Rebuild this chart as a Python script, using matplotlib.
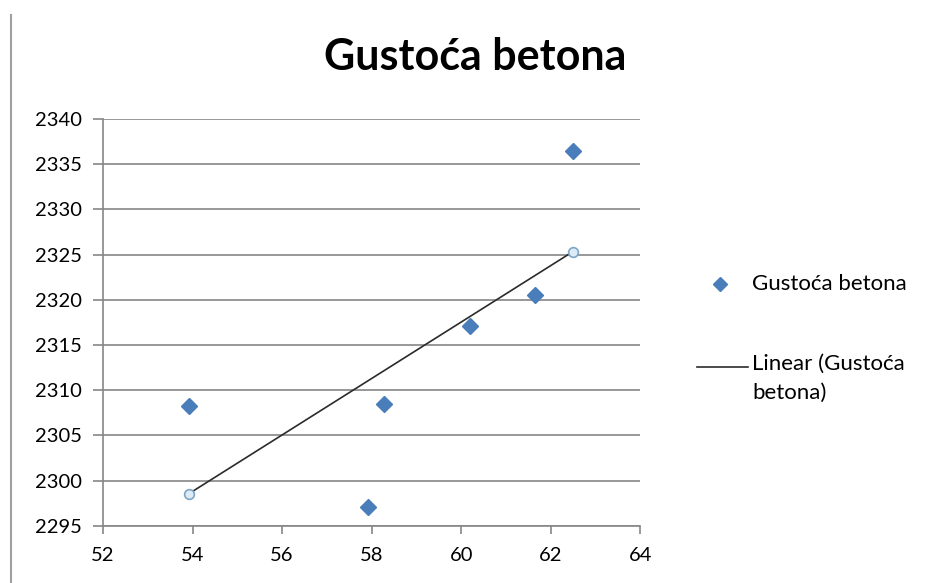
import numpy as np
import matplotlib
matplotlib.use('Agg')
from matplotlib import pyplot as plt
from matplotlib.lines import Line2D

# data
x_vals = [53.92, 57.92, 58.28, 60.2, 61.65, 62.5]
y_vals = [2308.3, 2297.1, 2308.5, 2317.1, 2320.55, 2336.4]
x_ticks = [52, 54, 56, 58, 60, 62, 64]
y_ticks = [2295, 2300, 2305, 2310, 2315, 2320, 2325, 2330, 2335, 2340]
title = 'Gustoća betona'
series_label = 'Gustoća betona'
trend_label = 'Linear (Gustoća\nbetona)'

plt.rcParams['font.family'] = ['Lato', 'DejaVu Sans']

fig = plt.figure(figsize=(9.36, 5.83), dpi=100)
ax = fig.add_axes([0.110, 0.098, 0.574, 0.698])

grid_c = '#868686'
blue = '#4a7ebb'
dark = '#2b2b2b'

# linear trendline (least squares) across the data range
k, b = np.polyfit(x_vals, y_vals, 1)
tx = np.array([min(x_vals), max(x_vals)])
ty = k * tx + b

ax.plot(x_vals, y_vals, linestyle='none', marker='D', markersize=8.5,
        color=blue, zorder=3)
ax.plot(tx, ty, color=dark, linewidth=1.2, zorder=2)
ax.plot(tx, ty, linestyle='none', marker='o', markersize=7,
        markerfacecolor='#dcebf5', markeredgecolor='#7ea6c6',
        markeredgewidth=1.2, zorder=4)

ax.set_xlim(52, 64)
ax.set_ylim(2295, 2340)
ax.set_xticks(x_ticks)
ax.set_yticks(y_ticks)
ax.yaxis.grid(True, color=grid_c, linewidth=1.2)
ax.set_axisbelow(True)
for s in ['top', 'right']:
    ax.spines[s].set_visible(False)
for s in ['left', 'bottom']:
    ax.spines[s].set_color(grid_c)
    ax.spines[s].set_linewidth(1.2)
ax.tick_params(axis='y', length=7.2, width=1.2, color=grid_c, labelsize=14.5,
               pad=8)
ax.tick_params(axis='x', length=5.5, width=1.2, color=grid_c, labelsize=14.5,
               pad=10)

fig.text(475 / 936, 1 - 57 / 583, title, ha='center', va='center',
         fontsize=31, fontweight='bold')

# legend, placed by hand like the Excel one
fig.add_artist(Line2D([720 / 936], [1 - 284 / 583], linestyle='none',
                      marker='D', markersize=7, color=blue,
                      transform=fig.transFigure))
fig.text(752 / 936, 1 - 284 / 583, series_label, ha='left', va='center',
         fontsize=16)
fig.add_artist(Line2D([697 / 936, 748 / 936], [1 - 367 / 583, 1 - 367 / 583],
                      color=dark, linewidth=1.2, transform=fig.transFigure))
fig.text(752 / 936, 1 - 367 / 583, trend_label, ha='left', va='top',
         fontsize=16, linespacing=1.55,
         transform=fig.transFigure).set_y(1 - 354 / 583)

# left border of the chart area
fig.add_artist(Line2D([11 / 936, 11 / 936], [0, 0.975], color='#a0a0a0',
                      linewidth=1.5, transform=fig.transFigure))

fig.savefig('out.png', dpi=100)
